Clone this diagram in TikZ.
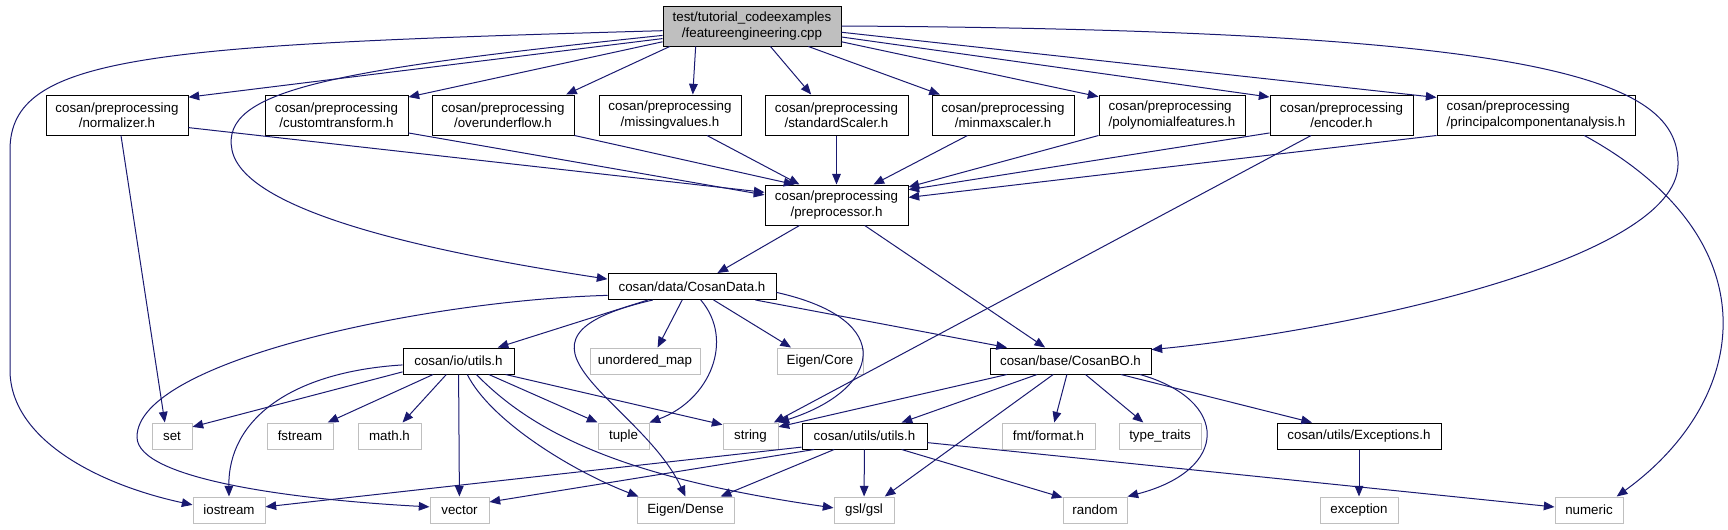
\documentclass[tikz,border=0pt]{standalone}
\usepackage{fontspec}
\setmainfont{Liberation Sans}
\usetikzlibrary{arrows.meta}
\definecolor{edgeblue}{HTML}{191970}
\definecolor{sysgray}{HTML}{BFBFBF}
\begin{document}
\begin{tikzpicture}[x=0.75pt,y=-0.75pt]
	\tikzset{hdr/.style={draw=black,fill=white,line width=0.75pt,inner sep=0pt,
	                     font=\fontsize{10}{11.5}\selectfont,minimum height=19.5pt},
	         hdrtwo/.style={hdr,align=center,minimum height=30pt},
	         sys/.style={hdr,draw=sysgray},
	         inc/.style={draw=edgeblue,line width=0.75pt,-{Triangle[length=8pt,width=6.5pt]}}}
	\useasboundingbox (0,0) rectangle (1728,529);
	\node[hdrtwo,fill=sysgray,minimum width=133.5pt] (root) at (752,26) {test/tutorial\_codeexamples\\/featureengineering.cpp};
	\node[hdrtwo,minimum width=106.5pt] (normalizer) at (117,115) {cosan/preprocessing\\/normalizer.h};
	\node[hdrtwo,minimum width=107.25pt] (customtransform) at (336.5,115) {cosan/preprocessing\\/customtransform.h};
	\node[hdrtwo,minimum width=106.5pt] (overunderflow) at (503,115) {cosan/preprocessing\\/overunderflow.h};
	\node[hdrtwo,minimum width=106.5pt] (missingvalues) at (670,115) {cosan/preprocessing\\/missingvalues.h};
	\node[hdrtwo,minimum width=107.25pt] (standardscaler) at (836.5,115) {cosan/preprocessing\\/standardScaler.h};
	\node[hdrtwo,minimum width=106.5pt] (minmaxscaler) at (1003,115) {cosan/preprocessing\\/minmaxscaler.h};
	\node[hdrtwo,align=left,minimum width=109.5pt] (polyfeatures) at (1172,115) {cosan/preprocessing\\/polynomialfeatures.h};
	\node[hdrtwo,minimum width=107.25pt] (encoder) at (1341.5,115) {cosan/preprocessing\\/encoder.h};
	\node[hdrtwo,align=left,minimum width=148.5pt] (pca) at (1536,115) {cosan/preprocessing\\/principalcomponentanalysis.h};
	\node[hdrtwo,minimum width=107.25pt] (preprocessor) at (836.5,205) {cosan/preprocessing\\/preprocessor.h};
	\node[hdr,minimum width=126pt] (cosandata) at (692,286.5) {cosan/data/CosanData.h};
	\node[hdr,minimum width=83.25pt] (ioutils) at (458.5,361) {cosan/io/utils.h};
	\node[sys,minimum width=82.5pt] (unorderedmap) at (645,361) {unordered\_map};
	\node[sys,minimum width=64.5pt] (eigencore) at (820,361) {Eigen/Core};
	\node[hdr,minimum width=120.75pt] (cosanbo) at (1070.5,361) {cosan/base/CosanBO.h};
	\node[sys,minimum width=30pt] (set) at (172,436) {set};
	\node[sys,minimum width=49.5pt] (fstream) at (300,436) {fstream};
	\node[sys,minimum width=47.25pt] (mathh) at (389.5,436) {math.h};
	\node[sys,minimum width=38.25pt] (tuple) at (623.5,436) {tuple};
	\node[sys,minimum width=41.25pt] (string) at (750.5,436) {string};
	\node[hdr,minimum width=93.75pt] (utils) at (864.5,436) {cosan/utils/utils.h};
	\node[sys,minimum width=69.75pt] (fmtformat) at (1048.5,436) {fmt/format.h};
	\node[sys,minimum width=61.5pt] (typetraits) at (1160,436) {type\_traits};
	\node[hdr,minimum width=123pt] (exceptions) at (1359,436) {cosan/utils/Exceptions.h};
	\node[sys,minimum width=54pt] (iostream) at (229,510) {iostream};
	\node[sys,minimum width=44.25pt] (vector) at (459.5,510) {vector};
	\node[sys,minimum width=72.75pt] (eigendense) at (685.5,510) {Eigen/Dense};
	\node[sys,minimum width=45pt] (gsl) at (864,510) {gsl/gsl};
	\node[sys,minimum width=48pt] (random) at (1095,510) {random};
	\node[sys,minimum width=58.5pt] (exception) at (1359,510) {exception};
	\node[sys,minimum width=51pt] (numeric) at (1589,510) {numeric};
	\draw[inc] (root.183) .. controls (150,45) and (10,55) .. (10,150) -- (10,370) .. controls (10,440) and (100,485) .. (iostream.172);
	\draw[inc] (root.188) -- (normalizer.14);
	\draw[inc] (root.186) .. controls (330,70) and (220,90) .. (232,150) .. controls (245,215) and (450,255) .. (cosandata.175);
	\draw[inc] (root.190) -- (customtransform.14);
	\draw[inc] (root.194) -- (overunderflow.18);
	\draw[inc] (root.200) -- (missingvalues.42);
	\draw[inc] (root.312) -- (standardscaler.141);
	\draw[inc] (root.340) -- (minmaxscaler.162);
	\draw[inc] (root.350) -- (polyfeatures.166);
	\draw[inc] (root.353) -- (encoder.166);
	\draw[inc] (root.356) -- (pca.170);
	\draw[inc] (root.east) .. controls (1550,30) and (1680,80) .. (1678,165) .. controls (1676,260) and (1350,330) .. (cosanbo.8);
	\draw[inc] (normalizer.350) -- (preprocessor.170);
	\draw[inc] (normalizer.281) -- (set.118);
	\draw[inc] (customtransform.346) -- (preprocessor.172);
	\draw[inc] (overunderflow.south east) -- (preprocessor.154);
	\draw[inc] (missingvalues.331) -- (preprocessor.151);
	\draw[inc] (standardscaler) -- (preprocessor);
	\draw[inc] (minmaxscaler.210) -- (preprocessor.29);
	\draw[inc] (polyfeatures.south west) -- (preprocessor.14);
	\draw[inc] (encoder.194) -- (preprocessor.12);
	\draw[inc] (pca.south west) -- (preprocessor.6);
	\draw[inc] (encoder.214) -- (string.30);
	\draw[inc] (pca.337) .. controls (1775,240) and (1750,400) .. (numeric.26);
	\draw[inc] (preprocessor.209) -- (cosandata.28);
	\draw[inc] (preprocessor.324) -- (cosanbo.152);
	\draw[inc] (cosandata.186) .. controls (430,300) and (137,360) .. (137,437) .. controls (137,480) and (300,500) .. (vector.174);
	\draw[inc] (cosandata.197) -- (ioutils.19);
	\draw[inc] (cosandata.199) .. controls (480,340) and (640,400) .. (eigendense.north);
	\draw[inc] (cosandata.303) .. controls (735,340) and (710,400) .. (tuple.north east);
	\draw[inc] (cosandata.234) -- (unorderedmap.47);
	\draw[inc] (cosandata.328) -- (eigencore.155);
	\draw[inc] (cosandata.348) -- (cosanbo.168);
	\draw[inc] (cosandata.356) .. controls (900,320) and (880,390) .. (string.north east);
	\draw[inc] (ioutils.191) -- (set.24);
	\draw[inc] (ioutils.184) .. controls (290,372) and (228,420) .. (iostream.north);
	\draw[inc] (ioutils.208) -- (fstream.26);
	\draw[inc] (ioutils.228) -- (mathh.46);
	\draw[inc] (ioutils) -- (vector);
	\draw[inc] (ioutils.303) .. controls (490,420) and (570,470) .. (eigendense.164);
	\draw[inc] (ioutils.323) .. controls (540,440) and (640,480) .. (gsl.176);
	\draw[inc] (ioutils.336) -- (tuple.north west);
	\draw[inc] (ioutils.344) -- (string.158);
	\draw[inc] (cosanbo.192) -- (string.18);
	\draw[inc] (cosanbo.202) -- (utils.20);
	\draw[inc] (cosanbo.218) -- (gsl.33);
	\draw[inc] (cosanbo.255) -- (fmtformat.67);
	\draw[inc] (cosanbo.318) -- (typetraits.141);
	\draw[inc] (cosanbo.349) .. controls (1230,400) and (1230,470) .. (random.north east);
	\draw[inc] (cosanbo.345) -- (exceptions.164);
	\draw[inc] (utils.190) -- (iostream.5);
	\draw[inc] (utils.195) -- (vector.15);
	\draw[inc] (utils.204) -- (eigendense.21);
	\draw[inc] (utils) -- (gsl);
	\draw[inc] (utils.340) -- (random.159);
	\draw[inc] (utils.354) -- (numeric.175);
	\draw[inc] (exceptions) -- (exception);
\end{tikzpicture}
\end{document}
